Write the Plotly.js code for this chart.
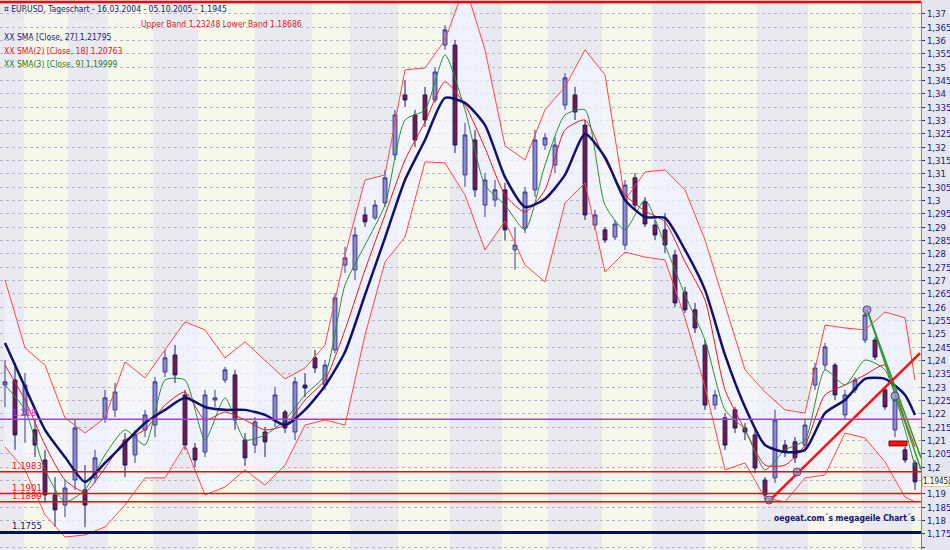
<!DOCTYPE html>
<html>
<head>
<meta charset="utf-8">
<script src="https://cdn.plot.ly/plotly-3.0.1.min.js"></script>
<style>
html,body{margin:0;padding:0;background:#e6e6ee;}
#chart{width:950px;height:550px;}
</style>
</head>
<body>
<div id="chart"></div>
<script>
// ---- Candles (approx. weekly bins) ----
const candleOpen = [
1.2308,1.2327,1.2196,1.2140,1.2027,1.1896,1.1858,1.1952,1.1915,1.1960,
1.2185,1.2215,1.2102,1.2046,1.2140,1.2158,1.2357,1.2421,1.2271,1.2072,
1.2057,1.2252,1.2327,1.2346,1.2102,1.2083,1.2132,1.2177,1.2207,1.2132,
1.2308,1.2410,1.2308,1.2440,1.2758,1.2740,1.2946,1.2935,1.2991,1.3171,
1.3396,1.3321,1.3396,1.3377,1.3583,1.3583,1.3096,1.3227,1.2983,1.3002,
1.3040,1.2815,1.2897,1.3040,1.3208,1.3133,1.3358,1.3396,1.3283,1.2908,
1.2890,1.2863,1.2833,1.3085,1.2995,1.2908,1.2890,1.2796,1.2657,1.2590,
1.2458,1.2233,1.2185,1.2215,1.2147,1.2121,1.1952,1.1960,1.2083,1.2095,
1.2083,1.2308,1.2383,1.2383,1.2196,1.2290,1.2477,1.2477,1.2290,1.2140,
1.2065,1.2016];
const candleHigh = [
1.2402,1.2391,1.2353,1.2177,1.2065,1.1963,1.1952,1.2177,1.2008,1.2065,
1.2290,1.2316,1.2128,1.2140,1.2215,1.2338,1.2440,1.2458,1.2290,1.2091,
1.2290,1.2290,1.2376,1.2365,1.2128,1.2188,1.2151,1.2301,1.2215,1.2338,
1.2353,1.2440,1.2402,1.2653,1.2826,1.2901,1.2976,1.3002,1.3115,1.3340,
1.3452,1.3340,1.3426,1.3501,1.3658,1.3602,1.3291,1.3265,1.3103,1.3077,
1.3066,1.2901,1.3051,1.3265,1.3253,1.3238,1.3478,1.3426,1.3302,1.2965,
1.2901,1.2927,1.3077,1.3103,1.3013,1.2927,1.2953,1.2815,1.2676,1.2616,
1.2477,1.2290,1.2203,1.2226,1.2166,1.2140,1.1963,1.2215,1.2102,1.2113,
1.2177,1.2391,1.2466,1.2391,1.2290,1.2338,1.2590,1.2488,1.2301,1.2263,
1.2076,1.2027];
const candleLow = [
1.2226,1.2065,1.2091,1.2038,1.1866,1.1776,1.1813,1.1915,1.1776,1.1941,
1.2166,1.2188,1.1963,1.2016,1.2113,1.2113,1.2338,1.2316,1.2065,1.2001,
1.2038,1.2226,1.2316,1.2140,1.2005,1.2053,1.2038,1.2151,1.2128,1.2102,
1.2263,1.2353,1.2290,1.2428,1.2728,1.2702,1.2901,1.2927,1.2976,1.3152,
1.3351,1.3201,1.3276,1.3366,1.3565,1.3178,1.3051,1.3013,1.2938,1.2976,
1.2852,1.2740,1.2878,1.3013,1.3190,1.3103,1.3340,1.3302,1.2927,1.2890,
1.2841,1.2852,1.2815,1.2965,1.2901,1.2852,1.2803,1.2601,1.2578,1.2503,
1.2215,1.2215,1.2065,1.2128,1.2102,1.1978,1.1877,1.1941,1.2038,1.2016,
1.2065,1.2290,1.2365,1.2252,1.2177,1.2278,1.2466,1.2402,1.2215,1.2113,
1.2016,1.1915];
const candleClose = [
1.2320,1.2121,1.2308,1.2083,1.1896,1.1840,1.1922,1.2147,1.1858,1.2035,
1.2260,1.2282,1.2008,1.2121,1.2196,1.2320,1.2410,1.2346,1.2083,1.2027,
1.2271,1.2260,1.2365,1.2177,1.2035,1.2170,1.2095,1.2271,1.2147,1.2320,
1.2297,1.2372,1.2383,1.2635,1.2785,1.2871,1.2920,1.2983,1.3085,1.3321,
1.3377,1.3227,1.3302,1.3482,1.3640,1.3208,1.3246,1.3040,1.3077,1.3040,
1.2890,1.2833,1.3032,1.3227,1.3235,1.3208,1.3460,1.3332,1.2946,1.2946,
1.2852,1.2912,1.3058,1.2983,1.2912,1.2871,1.2833,1.2616,1.2590,1.2522,
1.2233,1.2271,1.2083,1.2147,1.2132,1.1997,1.1896,1.2177,1.2057,1.2035,
1.2158,1.2372,1.2451,1.2271,1.2271,1.2327,1.2571,1.2413,1.2226,1.2252,
1.2027,1.1945];

// ---- Indicator lines (read every second bin) ----
const lineIdx = [0,2,4,6,8,10,12,14,16,18,20,22,24,26,28,30,32,34,36,38,40,42,44,46,48,50,52,54,56,58,60,62,64,66,68,70,72,74,76,78,80,82,84,86,88,90,91];
const sma27 = [1.2466,1.2301,1.2140,1.2038,1.1945,1.2016,1.2091,1.2166,1.2215,1.2260,
1.2226,1.2215,1.2215,1.2196,1.2158,1.2215,1.2305,1.2432,1.2646,1.2860,
1.3077,1.3227,1.3385,1.3366,1.3283,1.3088,1.2976,1.3006,1.3096,1.3250,
1.3163,1.3002,1.2938,1.2935,1.2815,1.2665,1.2421,1.2226,1.2083,1.2057,
1.2065,1.2203,1.2252,1.2331,1.2331,1.2271,1.2196];
const sma18 = [1.2383,1.2252,1.2083,1.1952,1.1907,1.1997,1.2102,1.2140,1.2233,1.2282,
1.2177,1.2207,1.2177,1.2140,1.2158,1.2252,1.2327,1.2515,1.2740,1.2946,
1.3152,1.3295,1.3445,1.3358,1.3197,1.3021,1.2957,1.3040,1.3265,1.3302,
1.3152,1.3021,1.2961,1.2920,1.2770,1.2627,1.2290,1.2140,1.2008,1.2008,
1.2083,1.2271,1.2308,1.2346,1.2383,1.2177,1.2076];
const sma9 = [1.2308,1.2215,1.1990,1.1870,1.1915,1.2046,1.2140,1.2083,1.2327,1.2327,
1.2102,1.2260,1.2102,1.2121,1.2177,1.2271,1.2346,1.2683,1.2833,1.2983,
1.3302,1.3340,1.3546,1.3340,1.3058,1.2983,1.2890,1.3133,1.3321,1.3340,
1.2983,1.2890,1.3002,1.2833,1.2646,1.2477,1.2215,1.2140,1.1990,1.2065,
1.2102,1.2365,1.2308,1.2402,1.2365,1.2140,1.2001];
const bandUpper = [1.2702,1.2447,1.2383,1.2185,1.2128,1.2185,1.2395,1.2335,1.2440,1.2545,
1.2515,1.2410,1.2470,1.2402,1.2331,1.2372,1.2458,1.2796,1.3077,1.3096,
1.3490,1.3497,1.3602,1.3808,1.3565,1.3205,1.3152,1.3340,1.3426,1.3565,
1.3471,1.3002,1.3107,1.3115,1.3040,1.2852,1.2608,1.2365,1.2282,1.2215,
1.2203,1.2533,1.2522,1.2515,1.2582,1.2560,1.2327];
const bandLower = [1.2076,1.1990,1.1821,1.1738,1.1746,1.1776,1.1858,1.1960,1.1960,1.2083,
1.1896,1.1926,1.1990,1.1933,1.2008,1.2158,1.2177,1.2158,1.2496,1.2770,
1.2863,1.3145,1.3141,1.3021,1.2815,1.2923,1.2758,1.2695,1.2991,1.3066,
1.2732,1.2807,1.2788,1.2777,1.2560,1.2301,1.1990,1.2016,1.1885,1.1870,
1.1960,1.1971,1.2128,1.2110,1.2020,1.1888,1.1870];

// ---- Drawn levels / trend lines ----
const redLevels = [1.1983, 1.1901, 1.1870];
const redLevelLabels = ['1.1983', '1.1901', '1.1889'];
const magentaLevel = 1.218;
const navyLevel = 1.1755;
const trendUpX = [76.4, 91.5], trendUpY = [1.1873, 1.2428];
const trendDn1X = [86.2, 91.6], trendDn1Y = [1.2590, 1.1990];
const trendDn2X = [86.2, 91.6], trendDn2Y = [1.2590, 1.2035];
const anchorX = [76.4, 79.2, 86.2, 89.0];
const anchorY = [1.1877, 1.1982, 1.2590, 1.2267];
const markBox = {x0: 88.4, x1: 90.2, y0: 1.2080, y1: 1.2098};
const lastPrice = 1.1945;
const monthBounds = [-0.5,1.9,6.3,10.3,14.8,19.3,25.0,30.7,34.5,39.3,44.5,49.7,54.3,59.7,64.7,70.0,75.2,80.3,85.7,90.7,91.6];

const FONT = "'Liberation Sans Narrow','Arial Narrow','DejaVu Sans Condensed',sans-serif";
const idx = candleClose.map((_, i) => i);

const traces = [
  {type:'candlestick', x:idx, open:candleOpen, high:candleHigh, low:candleLow, close:candleClose,
   increasing:{line:{color:'#3a3a92', width:1}, fillcolor:'#8c8cd0'},
   decreasing:{line:{color:'#1a1a66', width:1}, fillcolor:'#7a1848'},
   whiskerwidth:0, hoverinfo:'skip', showlegend:false},
  {type:'scatter', mode:'lines', x:lineIdx, y:bandLower, line:{color:'#ff4646', width:1}, hoverinfo:'skip', showlegend:false},
  {type:'scatter', mode:'lines', x:lineIdx, y:bandUpper, line:{color:'#ff4646', width:1}, hoverinfo:'skip', showlegend:false},
  {type:'scatter', mode:'lines', x:lineIdx, y:sma18, line:{color:'#e81818', width:1, shape:'spline', smoothing:0.6}, hoverinfo:'skip', showlegend:false},
  {type:'scatter', mode:'lines', x:lineIdx, y:sma9, line:{color:'#289028', width:1, shape:'spline', smoothing:0.6}, hoverinfo:'skip', showlegend:false},
  {type:'scatter', mode:'lines', x:lineIdx, y:sma27, line:{color:'#10106e', width:2.5, shape:'spline', smoothing:0.6}, hoverinfo:'skip', showlegend:false},
  {type:'scatter', mode:'lines', x:trendDn1X, y:trendDn1Y, line:{color:'#2a9a2a', width:1.5}, hoverinfo:'skip', showlegend:false},
  {type:'scatter', mode:'lines', x:trendDn2X, y:trendDn2Y, line:{color:'#2a9a2a', width:1.5}, hoverinfo:'skip', showlegend:false},
  {type:'scatter', mode:'lines', x:trendUpX, y:trendUpY, line:{color:'#ff1010', width:2.5}, hoverinfo:'skip', showlegend:false},
  {type:'scatter', mode:'markers', x:anchorX, y:anchorY, marker:{size:8, color:'rgba(150,150,200,0.85)', line:{color:'#50508a', width:1}}, hoverinfo:'skip', showlegend:false}
];

const shapes = [];
for (let i = 0; i < monthBounds.length - 1; i++) {
  shapes.push({type:'rect', xref:'x', yref:'paper', x0:monthBounds[i], x1:monthBounds[i+1], y0:0, y1:1,
    fillcolor: i % 2 === 0 ? '#e9e9f0' : '#f6f8ec', line:{width:0}, layer:'below'});
}
// Bollinger band area, drawn from the band arrays, between gridlines and traces
let bandPath = 'M ' + lineIdx.map((x, i) => x + ',' + bandUpper[i]).join(' L ');
for (let i = lineIdx.length - 1; i >= 0; i--) bandPath += ' L ' + lineIdx[i] + ',' + bandLower[i];
bandPath += ' Z';
shapes.push({type:'path', xref:'x', yref:'y', path:bandPath, fillcolor:'rgba(242,245,255,0.72)', line:{width:0}, layer:'between'});

redLevels.forEach(v => shapes.push({type:'line', xref:'paper', yref:'y', x0:0, x1:1, y0:v, y1:v, line:{color:'#ff0000', width:1.5}}));
shapes.push({type:'line', xref:'paper', yref:'y', x0:0, x1:1, y0:magentaLevel, y1:magentaLevel, line:{color:'#e020e0', width:1.5}});
shapes.push({type:'line', xref:'paper', yref:'y', x0:0, x1:1, y0:navyLevel, y1:navyLevel, line:{color:'#0a0a6e', width:3}});
shapes.push({type:'rect', xref:'x', yref:'y', x0:markBox.x0, x1:markBox.x1, y0:markBox.y0, y1:markBox.y1, fillcolor:'#ff1010', line:{color:'#700000', width:1}});
shapes.push({type:'line', xref:'paper', yref:'paper', x0:0, x1:1, y0:1, y1:1, line:{color:'#ff0000', width:2.5}});

const ann = [];
function txt(x, y, text, color, size, opts) {
  ann.push(Object.assign({xref:'paper', yref:'paper', x:x, y:y, text:text, showarrow:false, xanchor:'left', yanchor:'middle',
    font:{family:FONT, size:size, color:color}}, opts || {}));
}
const py = p => (550 - p) / 548;
txt(0.002, py(9), '¤ EURUSD, Tageschart - 16.03.2004 - 05.10.2005 - 1.1945', '#20206e', 8.5);
txt(0.002, py(24), 'XX BBD [Close, 20, 2] Moving Average 1.20967', '#f2f2f6', 7);
txt(139/921, py(24), 'Upper Band 1.23248 Lower Band 1.18686', '#e01818', 8.5);
txt(0.002, py(37), 'XX SMA [Close, 27] 1.21795', '#20207a', 8.5);
txt(0.002, py(51), 'XX SMA(2) [Close, 18] 1.20763', '#e01818', 8.5);
txt(0.002, py(64), 'XX SMA(3) [Close, 9] 1.19999', '#208020', 8.5);
txt(918/921, py(518), '<b>oegeat.com´s megageile Chart´s</b>', '#14146e', 8.5, {xanchor:'right'});

redLevels.forEach((v, i) => ann.push({xref:'paper', yref:'y', x:0.011, y:v, text:redLevelLabels[i], showarrow:false,
  xanchor:'left', yanchor:'bottom', yshift:-1, font:{family:FONT, size:9.5, color:'#ff1010'}}));
ann.push({xref:'paper', yref:'y', x:0.011, y:magentaLevel, text:'1.218', showarrow:false, xanchor:'left', yanchor:'bottom', yshift:-1,
  font:{family:FONT, size:9.5, color:'#e020e0'}});
ann.push({xref:'paper', yref:'y', x:0.011, y:navyLevel, text:'1.1755', showarrow:false, xanchor:'left', yanchor:'bottom', yshift:0,
  font:{family:FONT, size:9.5, color:'#10106e'}});
ann.push({xref:'paper', yref:'y', x:1, y:lastPrice, text:lastPrice.toFixed(4), showarrow:false, xanchor:'left', yanchor:'middle', xshift:1,
  bgcolor:'#ffffe0', bordercolor:'#d0d0a8', borderwidth:1, borderpad:0, font:{family:FONT, size:8, color:'#10106e'}});

const layout = {
  width:950, height:550, autosize:false,
  margin:{l:0, r:29, t:2, b:0, pad:0},
  paper_bgcolor:'#e6e6ee', plot_bgcolor:'#ffffff',
  separators:',.',
  boxgap:0.45,
  showlegend:false,
  xaxis:{range:[-0.5, 91.6], showgrid:false, zeroline:false, showticklabels:false, showline:false, ticks:'', rangeslider:{visible:false}, fixedrange:true},
  yaxis:{side:'right', range:[1.16895, 1.37445], tick0:1.17, dtick:0.005, tickformat:'.3~f',
    showgrid:true, gridcolor:'#b4b4c4', griddash:'dot', gridwidth:1, zeroline:false,
    showline:true, linecolor:'#e06040', linewidth:1, ticks:'outside', ticklen:3, tickcolor:'#303080',
    tickfont:{family:FONT, size:9.5, color:'#1a1a70'}, fixedrange:true},
  shapes:shapes, annotations:ann, font:{family:FONT}
};

Plotly.newPlot('chart', traces, layout, {staticPlot:true, displayModeBar:false});
</script>
</body>
</html>
